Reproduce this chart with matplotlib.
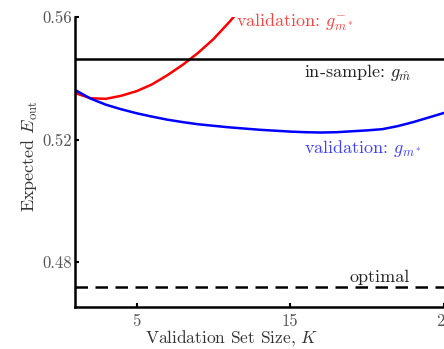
import numpy as np
import matplotlib
matplotlib.use('Agg')
import matplotlib.pyplot as plt

plt.rcParams['font.family'] = 'serif'
plt.rcParams['font.serif'] = ['cmr10', 'DejaVu Serif']
plt.rcParams['mathtext.fontset'] = 'cm'
plt.rcParams['axes.unicode_minus'] = False

# validation set size K vs expected E_out
k_red = [1, 2, 3, 4, 5, 6, 7, 8, 9, 10, 11, 12]
e_red = [0.5352, 0.5335, 0.5333, 0.5343, 0.5358, 0.5380, 0.5410, 0.5444,
         0.5483, 0.5528, 0.5582, 0.5640]

k_blue = list(range(1, 26))
e_blue = [0.5362, 0.5334, 0.5314, 0.5299, 0.5286, 0.5275, 0.5265, 0.5257,
          0.5250, 0.5245, 0.5240, 0.5236, 0.5232, 0.5229, 0.5226, 0.5224,
          0.5223, 0.5224, 0.5227, 0.5230, 0.5234, 0.5244, 0.5257, 0.5272,
          0.5287]

e_insample = 0.5463
e_optimal = 0.4718

xticks = [5, 15, 25]
yticks = [0.48, 0.52, 0.56]

fig = plt.figure(figsize=(4.44, 3.49), dpi=100)
ax = fig.add_axes([0.169, 0.1203, 0.831, 0.8307])

ax.plot(k_red, e_red, color='red', lw=1.8)
ax.plot(k_blue, e_blue, color='blue', lw=1.8)
ax.axhline(e_insample, color='black', lw=1.8)
ax.axhline(e_optimal, color='black', lw=1.8, ls=(0, (5, 3)))

ax.set_xlim(1, 25)
ax.set_ylim(0.4653, 0.56)
ax.set_xticks(xticks)
ax.set_yticks(yticks)
ax.set_xticklabels([str(t) for t in xticks])
ax.set_yticklabels(['%.2f' % t for t in yticks])

for s in ['top', 'right']:
    ax.spines[s].set_visible(False)
for s in ['left', 'bottom']:
    ax.spines[s].set_linewidth(1.8)
ax.tick_params(direction='in', length=3, width=1.5, labelsize=12,
               labelcolor='#555555')
ax.tick_params(axis='y', pad=2)
ax.tick_params(axis='x', pad=5)

ax.text(11.5, 0.5584, r'validation: $g^{-}_{m^*}$', color='#ff4040',
        fontsize=13, va='center', ha='left')
ax.text(15.9, 0.5420, r'in-sample: $g_{\hat{m}}$', color='#222222',
        fontsize=13, va='center', ha='left')
ax.text(15.9, 0.5172, r'validation: $g_{m^*}$', color='#4040ff',
        fontsize=13, va='center', ha='left')
ax.text(20.8, 0.4751, 'optimal', color='#222222', fontsize=13,
        va='center', ha='center')

ax.set_xlabel(r'Validation Set Size, $K$', fontsize=12.5, color='#333333')
ax.xaxis.set_label_coords(0.425, -0.073)
ax.set_ylabel(r'Expected $E_{\rm out}$', fontsize=13, color='#333333')
ax.yaxis.set_label_coords(-0.094, 0.52)

fig.savefig('out.png', dpi=100)
